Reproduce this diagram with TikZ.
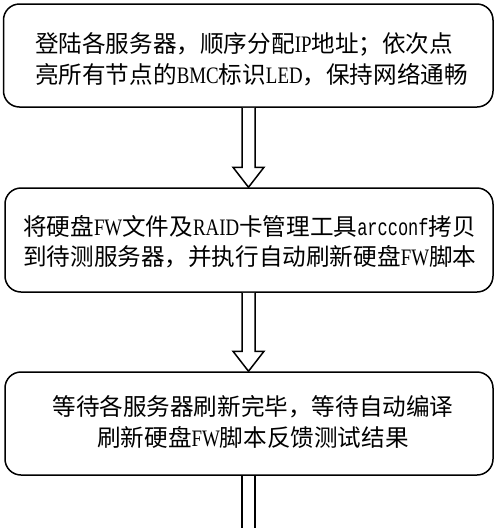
\documentclass[tikz,border=0pt]{standalone}
\usepackage{fontspec}
\usetikzlibrary{calc}
\newfontfamily\cjk{Noto Sans CJK SC}
\newfontfamily\lat[FakeStretch=0.8]{Liberation Serif}
\newfontfamily\mono[FakeStretch=0.72]{Liberation Mono}
\tikzset{
  box/.style={draw=black, line width=1.5pt, rounded corners=16pt, rectangle, inner sep=0pt},
  txt/.style={inner sep=0pt, font=\cjk\fontsize{23.6}{30.5}\selectfont, text=black},
  arrowline/.style={draw=black, line width=1.5pt, fill=white, line join=miter}
}
\begin{document}
\begin{tikzpicture}[x=1pt,y=-1pt]
\useasboundingbox[fill=white] (0,0) rectangle (500,528);
% boxes
\node[box, minimum width=489.5pt, minimum height=103pt] (b1) at (248.25,55.5) {};
\node[box, minimum width=488pt, minimum height=104pt] (b2) at (249,240) {};
\node[box, minimum width=488pt, minimum height=103pt] (b3) at (249,423.5) {};
% texts
\node[txt, anchor=west, align=left] (t1) at (35,59.5)
  {登陆各服务器，顺序分配{\lat IP}地址；依次点\\亮所有节点的{\lat BMC}标识{\lat LED}，保持网络通畅};
\node[txt, anchor=west, align=left] (t2) at (23,241.5)
  {将硬盘{\lat FW}文件及{\lat RAID}卡管理工具{\mono arcconf}拷贝\\到待测服务器，并执行自动刷新硬盘{\lat FW}脚本};
\node[txt, align=center] (t3) at (253,422)
  {等待各服务器刷新完毕，等待自动编译\\刷新硬盘{\lat FW}脚本反馈测试结果};
% hollow block arrows
\draw[arrowline] let \p1=(b1.south), \p2=(b2.north) in
  (242pt,\y1) -- (242pt,\y2+20pt) -- (233pt,\y2+20pt) -- (248.5pt,\y2)
  -- (264pt,\y2+20pt) -- (255pt,\y2+20pt) -- (255pt,\y1);
\draw[arrowline] let \p1=(b2.south), \p2=(b3.north) in
  (242pt,\y1) -- (242pt,\y2+20pt) -- (233pt,\y2+20pt) -- (248.5pt,\y2)
  -- (264pt,\y2+20pt) -- (255pt,\y2+20pt) -- (255pt,\y1);
% last arrow shaft leaving the picture
\coordinate (bottom) at (248.5,529);
\draw[draw=black, line width=1.5pt] let \p1=(b3.south), \p2=(bottom) in
  (242pt,\y1) -- (242pt,\y2) (255pt,\y1) -- (255pt,\y2);
\end{tikzpicture}
\end{document}
